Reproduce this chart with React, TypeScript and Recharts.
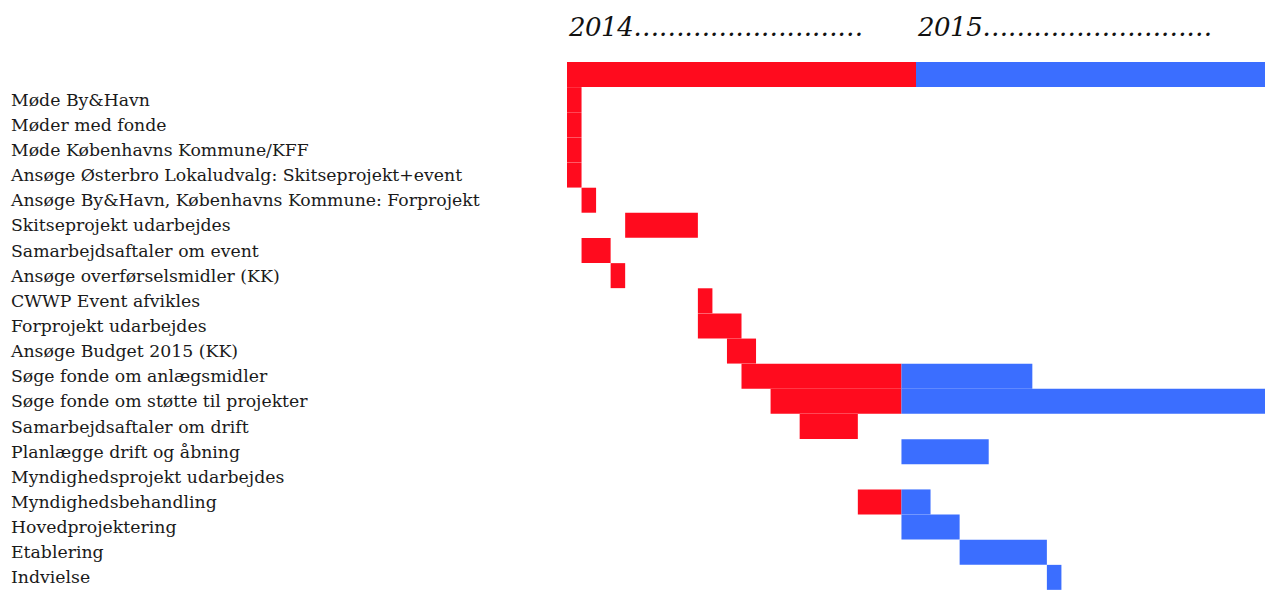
import React from "react";
import { BarChart, Bar, XAxis, YAxis } from "recharts";

// Half-month units: 0 = start of 2014, 24 = start of 2015, 48 = end of 2015
const tasks: string[] = [
  "",
  "Møde By&Havn",
  "Møder med fonde",
  "Møde Københavns Kommune/KFF",
  "Ansøge Østerbro Lokaludvalg: Skitseprojekt+event",
  "Ansøge By&Havn, Københavns Kommune: Forprojekt",
  "Skitseprojekt udarbejdes",
  "Samarbejdsaftaler om event",
  "Ansøge overførselsmidler (KK)",
  "CWWP Event afvikles",
  "Forprojekt udarbejdes",
  "Ansøge Budget 2015 (KK)",
  "Søge fonde om anlægsmidler",
  "Søge fonde om støtte til projekter",
  "Samarbejdsaftaler om drift",
  "Planlægge drift og åbning",
  "Myndighedsprojekt udarbejdes",
  "Myndighedsbehandling",
  "Hovedprojektering",
  "Etablering",
  "Indvielse",
];
const starts: number[] = [0, 0, 0, 0, 0, 1, 4, 1, 3, 9, 9, 11, 12, 14, 16, 23, 0, 20, 23, 27, 33];
const redLengths: number[] = [24, 1, 1, 1, 1, 1, 5, 2, 1, 1, 3, 2, 11, 9, 4, 0, 0, 3, 0, 0, 0];
const blueLengths: number[] = [24, 0, 0, 0, 0, 0, 0, 0, 0, 0, 0, 0, 9, 25, 0, 6, 0, 2, 4, 6, 1];
const yearTicks: number[] = [0, 24];
const yearLabels: string[] = ["2014………………………", "2015………………………"];

const data = tasks.map((name, i) => ({
  name,
  offset: starts[i],
  red: redLengths[i],
  blue: blueLengths[i],
}));

const RED = "#FF0B1E";
const BLUE = "#3B6EFF";

const YearTick = (props: any) => {
  const { x, payload } = props;
  const idx = yearTicks.indexOf(payload.value);
  return (
    <text
      x={x + 2}
      y={36}
      fill="#111"
      fontFamily="'DejaVu Serif', serif"
      fontStyle="italic"
      fontSize={26}
      letterSpacing={-0.5}
      textAnchor="start"
    >
      {yearLabels[idx]}
    </text>
  );
};

const TaskTick = (props: any) => {
  const { y, payload } = props;
  return (
    <text
      x={11}
      y={y}
      dy={6}
      fill="#1a1a1a"
      fontFamily="'DejaVu Serif', serif"
      fontSize={17.3}
      textAnchor="start"
    >
      {payload.value}
    </text>
  );
};

export default function App() {
  return (
    <div style={{ position: "absolute", left: 0, top: 0, width: 1265, height: 590, background: "#fff" }}>
      <BarChart
        width={1265}
        height={590}
        data={data}
        layout="vertical"
        barCategoryGap={0}
        margin={{ top: 22, right: 0, bottom: 0, left: 0 }}
      >
        <XAxis
          type="number"
          orientation="top"
          domain={[0, 48]}
          ticks={yearTicks}
          height={40}
          axisLine={false}
          tickLine={false}
          tick={<YearTick />}
          interval={0}
        />
        <YAxis
          type="category"
          dataKey="name"
          width={567}
          axisLine={false}
          tickLine={false}
          tick={<TaskTick />}
          interval={0}
        />
        <Bar dataKey="offset" stackId="a" fill="transparent" isAnimationActive={false} />
        <Bar dataKey="red" stackId="a" fill={RED} isAnimationActive={false} />
        <Bar dataKey="blue" stackId="a" fill={BLUE} isAnimationActive={false} />
      </BarChart>
    </div>
  );
}
